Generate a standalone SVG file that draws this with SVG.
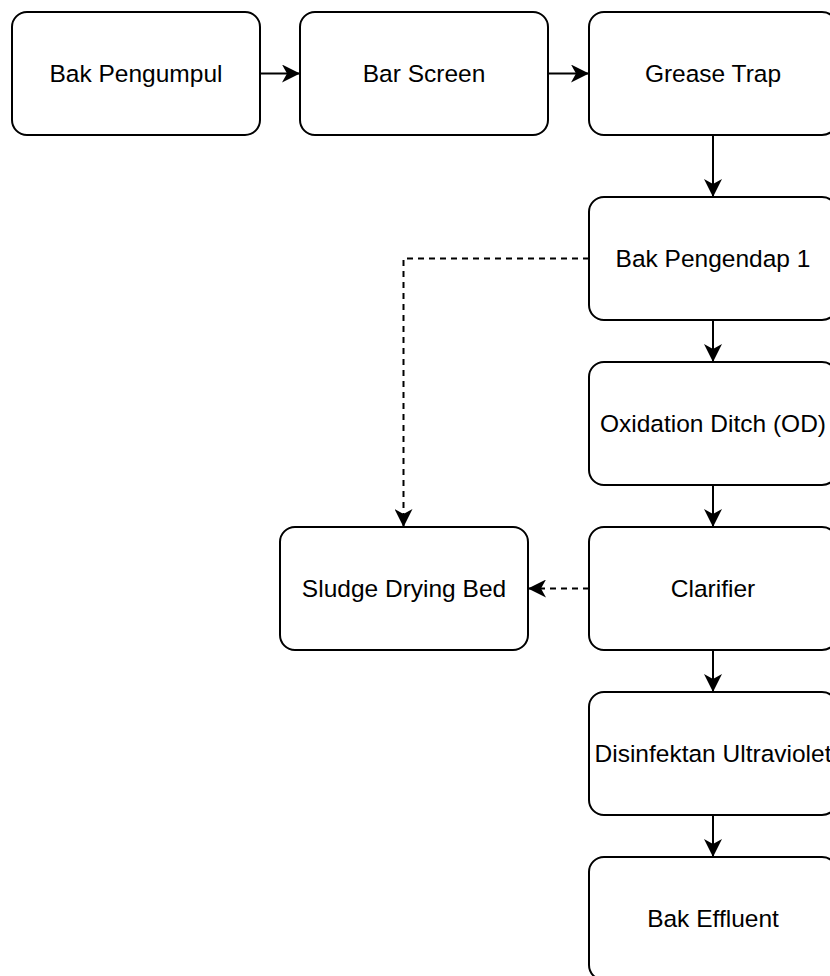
<svg xmlns="http://www.w3.org/2000/svg" width="830" height="976" viewBox="0 0 830 976">
  <style>
    .box { fill: #ffffff; stroke: #000000; stroke-width: 2; }
    .lbl { font-family: "Liberation Sans", Arial, Helvetica, sans-serif; font-size: 24.5px; fill: #000000; text-anchor: middle; }
    .edge { fill: none; stroke: #000000; stroke-width: 2; }
    .dash { stroke-dasharray: 6 5; }
  </style>
  <defs>
    <marker id="arrow" viewBox="0 0 18 18" refX="18" refY="9" markerWidth="18" markerHeight="18" markerUnits="userSpaceOnUse" orient="auto">
      <path d="M18,9 L0,0 L5,9 L0,18 Z" fill="#000000"/>
    </marker>
  </defs>
  <rect width="830" height="976" fill="#ffffff"/>

  <!-- connectors -->
  <g id="connectors">
    <path class="edge" d="M260,73.5 H300" marker-end="url(#arrow)"/>
    <path class="edge" d="M548,73.5 H589" marker-end="url(#arrow)"/>
    <path class="edge" d="M713,135 V197" marker-end="url(#arrow)"/>
    <path class="edge" d="M713,320 V362" marker-end="url(#arrow)"/>
    <path class="edge" d="M713,485 V527" marker-end="url(#arrow)"/>
    <path class="edge" d="M713,650 V692" marker-end="url(#arrow)"/>
    <path class="edge" d="M713,815 V857" marker-end="url(#arrow)"/>
    <path class="edge dash" d="M589,258.5 H403.5 V527" marker-end="url(#arrow)"/>
    <path class="edge dash" d="M589,588.5 H528" marker-end="url(#arrow)"/>
  </g>

  <!-- process units -->
  <g id="bak-pengumpul">
    <rect class="box" x="12" y="12" width="248" height="123" rx="15" ry="15"/>
    <text class="lbl" x="136" y="82">Bak Pengumpul</text>
  </g>
  <g id="bar-screen">
    <rect class="box" x="300" y="12" width="248" height="123" rx="15" ry="15"/>
    <text class="lbl" x="424" y="82">Bar Screen</text>
  </g>
  <g id="grease-trap">
    <rect class="box" x="589" y="12" width="248" height="123" rx="15" ry="15"/>
    <text class="lbl" x="713" y="82">Grease Trap</text>
  </g>
  <g id="bak-pengendap-1">
    <rect class="box" x="589" y="197" width="248" height="123" rx="15" ry="15"/>
    <text class="lbl" x="713" y="267">Bak Pengendap 1</text>
  </g>
  <g id="oxidation-ditch">
    <rect class="box" x="589" y="362" width="248" height="123" rx="15" ry="15"/>
    <text class="lbl" x="713" y="432">Oxidation Ditch (OD)</text>
  </g>
  <g id="clarifier">
    <rect class="box" x="589" y="527" width="248" height="123" rx="15" ry="15"/>
    <text class="lbl" x="713" y="597">Clarifier</text>
  </g>
  <g id="sludge-drying-bed">
    <rect class="box" x="280" y="527" width="248" height="123" rx="15" ry="15"/>
    <text class="lbl" x="404" y="597">Sludge Drying Bed</text>
  </g>
  <g id="disinfektan-ultraviolet">
    <rect class="box" x="589" y="692" width="248" height="123" rx="15" ry="15"/>
    <text class="lbl" x="713" y="762">Disinfektan Ultraviolet</text>
  </g>
  <g id="bak-effluent">
    <rect class="box" x="589" y="857" width="248" height="123" rx="15" ry="15"/>
    <text class="lbl" x="713" y="927">Bak Effluent</text>
  </g>
</svg>
